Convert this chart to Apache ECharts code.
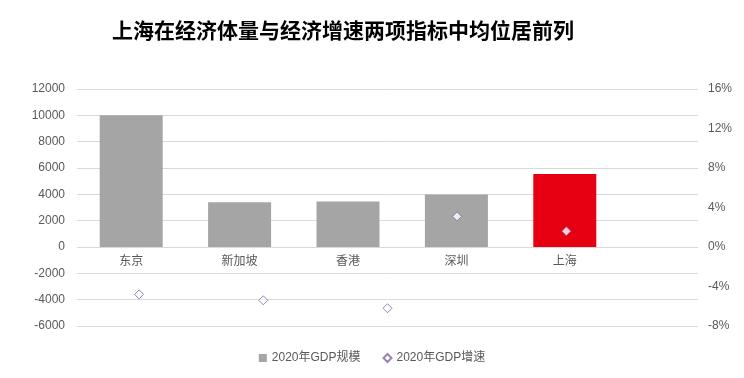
<!DOCTYPE html>
<html>
<head>
<meta charset="utf-8">
<script src="https://cdn.jsdelivr.net/npm/echarts@6/dist/echarts.min.js"></script>
<style>
  html, body { margin: 0; padding: 0; background: #fff; }
  #chart { width: 744px; height: 378px; }
</style>
</head>
<body>
<div id="chart"></div>
<script>
  // 城市与数据
  const cities = ["东京", "新加坡", "香港", "深圳", "上海"];
  const gdpSize = [10000, 3400, 3450, 3980, 5550];
  const gdpGrowth = [-4.8, -5.4, -6.2, 3.1, 1.6];
  // 增速点在整幅图宽上的横向位置（按读图估计）
  const growthPos = [0, 1, 2, 2.56, 3.44];

  const font = "'Liberation Sans', 'Noto Sans CJK SC', sans-serif";
  const labelColor = "#595959";

  const mc = echarts.init(document.getElementById("chart"));
  const option = {
    animation: false,
    textStyle: { fontFamily: font },
    title: {
      text: "上海在经济体量与经济增速两项指标中均位居前列",
      left: 107,
      top: 15,
      textStyle: {
        fontFamily: "'Noto Sans CJK SC', sans-serif",
        fontSize: 21,
        fontWeight: "bold",
        color: "#000",
      },
    },
    legend: {
      bottom: 9,
      left: "center",
      itemWidth: 8,
      itemHeight: 8,
      itemGap: 22,
      textStyle: { color: labelColor, fontSize: 12, fontFamily: font },
      data: [
        { name: "2020年GDP规模", icon: "rect" },
        { name: "2020年GDP增速", icon: "diamond" },
      ],
    },
    grid: [
      // 整个绘图区：网格线、左右坐标轴、增速点
      { left: 77, right: 46, top: 89, bottom: 52 },
      // 柱子区：只占 0 以上部分，类目轴在 0 线上
      { left: 77, right: 125, top: 89, bottom: 131 },
    ],
    xAxis: [
      {
        type: "value",
        gridIndex: 0,
        min: -0.5,
        max: 4.5,
        show: false,
      },
      {
        type: "category",
        gridIndex: 1,
        data: cities,
        axisLine: { show: false },
        axisTick: { show: false },
        axisLabel: { color: labelColor, fontSize: 12, margin: 9 },
      },
    ],
    yAxis: [
      {
        type: "value",
        gridIndex: 0,
        min: -6000,
        max: 12000,
        interval: 2000,
        axisLine: { show: false },
        axisTick: { show: false },
        axisLabel: { color: labelColor, fontSize: 12, margin: 12, formatter: (v) => String(v) },
        splitLine: { lineStyle: { color: "#D9D9D9", width: 1 } },
      },
      {
        type: "value",
        gridIndex: 0,
        position: "right",
        min: -8,
        max: 16,
        interval: 4,
        axisLine: { show: false },
        axisTick: { show: false },
        axisLabel: { color: labelColor, fontSize: 12, margin: 10, formatter: "{value}%" },
        splitLine: { show: false },
      },
      {
        type: "value",
        gridIndex: 1,
        min: 0,
        max: 12000,
        interval: 2000,
        show: false,
        splitLine: { show: false },
      },
    ],
    series: [
      {
        name: "2020年GDP规模",
        type: "bar",
        xAxisIndex: 1,
        yAxisIndex: 2,
        barWidth: 63,
        itemStyle: { color: "#A5A5A5" },
        data: gdpSize.map((v, i) =>
          cities[i] === "上海" ? { value: v, itemStyle: { color: "#E60012" } } : v
        ),
      },
      {
        name: "2020年GDP增速",
        type: "scatter",
        xAxisIndex: 0,
        yAxisIndex: 1,
        symbol: "diamond",
        symbolSize: 9,
        itemStyle: { color: "#fff", borderColor: "#8064A2", borderWidth: 1 },
        data: gdpGrowth.map((v, i) => [growthPos[i], v]),
        z: 5,
      },
    ],
  };
  mc.setOption(option);
</script>
</body>
</html>
